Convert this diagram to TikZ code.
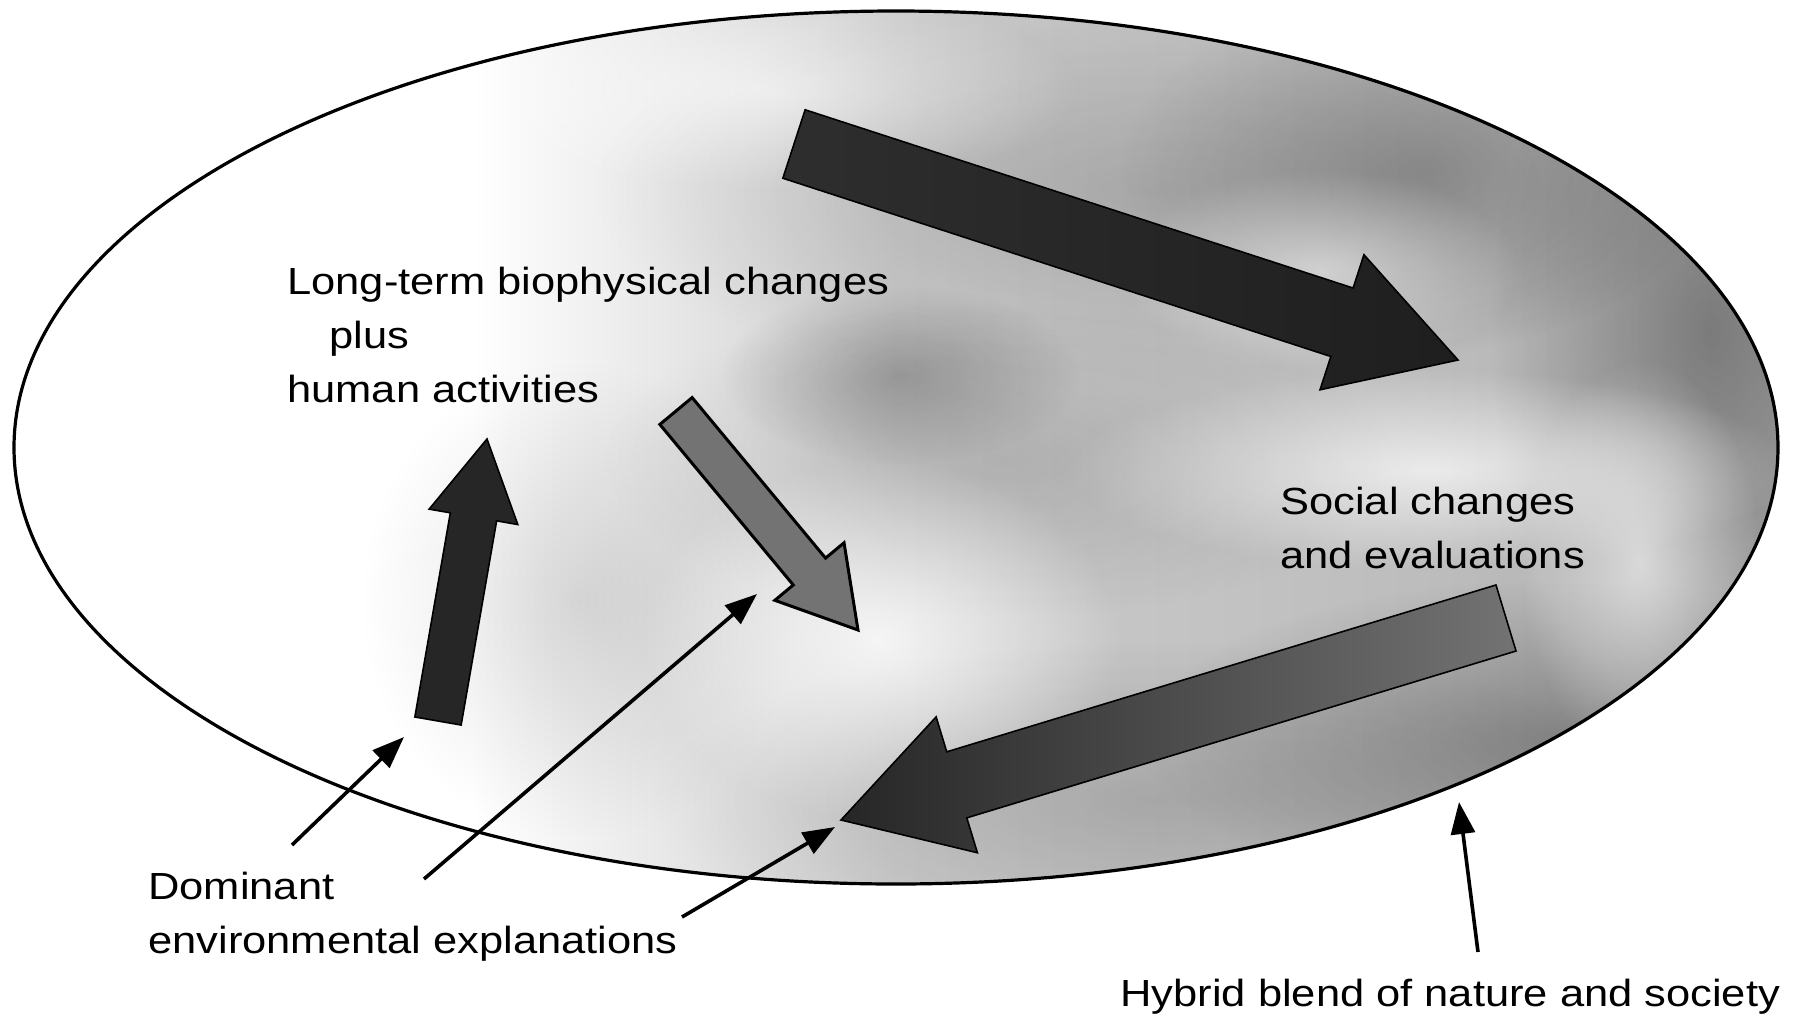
\documentclass[tikz,border=0pt]{standalone}
\usepackage{fontspec}
\setmainfont{Liberation Sans}[FakeStretch=1.15]
\usetikzlibrary{calc,arrows.meta,fadings}
\tikzfading[name=softblob, inner color=transparent!0, outer color=transparent!100]
\pgfdeclarehorizontalshading{bgshade}{100bp}{color(0bp)=(white); color(25bp)=(white); color(38bp)=(white); color(50bp)=(black!20); color(65bp)=(black!26); color(75bp)=(black!32); color(100bp)=(black!32)}
% #1 style, #2 tail, #3 tip, #4 half shaft width, #5 half head width, #6 head length
\newcommand{\blockarrow}[6]{%
  \coordinate (hb) at ($(#3)!#6!(#2)$);
  \path[#1] ($(#2)!#4!90:(#3)$) -- ($(hb)!#4!90:(#3)$) -- ($(hb)!#5!90:(#3)$) -- (#3)
    -- ($(hb)!#5!-90:(#3)$) -- ($(hb)!#4!-90:(#3)$) -- ($(#2)!#4!-90:(#3)$) -- cycle;
}
\begin{document}
\begin{tikzpicture}[x=0.5pt,y=-0.5pt,
  lbl/.style={font=\fontsize{18.9pt}{27pt}\selectfont, inner sep=0pt, align=left},
  thinarr/.style={line width=1.8pt, -{Triangle[length=16pt,width=12pt]}},
  darkblob/.style={fill=black, path fading=softblob},
  lightblob/.style={fill=white, path fading=softblob}]
\useasboundingbox (0,0) rectangle (1796,1019);
\fill[white] (0,0) rectangle (1796,1019);
% background texture of the ellipse
\begin{scope}
  \clip (896,447.5) ellipse [x radius=441pt, y radius=218.25pt];
  \shade[shading=bgshade] (14,11) rectangle (1778,884);
  \path[darkblob, opacity=0.22] (900,375) ellipse [x radius=90pt, y radius=45pt];
  \path[darkblob, opacity=0.15] (1150,190) ellipse [x radius=280pt, y radius=100pt];
  \path[darkblob, opacity=0.22] (1420,170) ellipse [x radius=150pt, y radius=90pt];
  \path[darkblob, opacity=0.30] (1710,330) ellipse [x radius=110pt, y radius=190pt];
  \path[darkblob, opacity=0.28] (1560,740) ellipse [x radius=210pt, y radius=80pt];
  \path[darkblob, opacity=0.15] (1150,800) ellipse [x radius=250pt, y radius=80pt];
  \path[darkblob, opacity=0.12] (1000,460) ellipse [x radius=200pt, y radius=80pt];
  \path[darkblob, opacity=0.12] (580,600) ellipse [x radius=110pt, y radius=120pt];
  \path[lightblob, opacity=0.80] (880,640) ellipse [x radius=120pt, y radius=90pt];
  \path[lightblob, opacity=0.70] (1430,470) ellipse [x radius=180pt, y radius=50pt];
  \path[lightblob, opacity=0.60] (760,90) ellipse [x radius=160pt, y radius=50pt];
  \path[lightblob, opacity=0.60] (1640,560) ellipse [x radius=60pt, y radius=100pt];
  \path[lightblob, opacity=0.50] (1320,270) ellipse [x radius=100pt, y radius=50pt];
\end{scope}
\draw[line width=1.6pt] (896,447.5) ellipse [x radius=441pt, y radius=218.25pt];

% block arrows
\coordinate (a1t) at (794,144);  \coordinate (a1h) at (1458,360);
\coordinate (a2t) at (676,411);  \coordinate (a2h) at (858,630);
\coordinate (a3t) at (438,721);  \coordinate (a3h) at (487,439);
\coordinate (a4t) at (1506,618); \coordinate (a4h) at (841,820);
\blockarrow{draw=black, line width=0.8pt, left color=black!82, middle color=black!64, right color=black!88}{a1t}{a1h}{18pt}{35.5pt}{61pt}
\blockarrow{draw=black, line width=1.5pt, fill=black!55}{a2t}{a2h}{10.5pt}{22.5pt}{38pt}
\blockarrow{draw=black, line width=0.8pt, fill=black!85}{a3t}{a3h}{11.75pt}{22.5pt}{39.5pt}
\blockarrow{draw=black, line width=0.8pt, left color=black!85, middle color=black!72, right color=black!55}{a4t}{a4h}{17.25pt}{35.5pt}{60.5pt}

% labels (base anchor = baseline of last line)
\node[lbl, anchor=base west] (lt) at (287,402) {Long-term biophysical changes\\\hspace*{21pt}plus\\human activities};
\node[lbl, anchor=base west] (soc) at (1280,568) {Social changes\\and evaluations};
\node[lbl, anchor=base west] (dom) at (148,953) {Dominant\\environmental explanations};
\node[lbl, anchor=base west] (hyb) at (1120,1006) {Hybrid blend of nature and society};

% pointer arrows
\coordinate (pA) at (292,845);  \coordinate (qA) at (404,737);
\coordinate (pB) at (424,879);  \coordinate (qB) at (757,594);
\coordinate (pC) at (682,917);  \coordinate (qC) at (835,827);
\coordinate (pD) at (1478,952); \coordinate (qD) at (1459,802);
\draw[thinarr] (pA) -- (qA);
\draw[thinarr] (pB) -- (qB);
\draw[thinarr] (pC) -- (qC);
\draw[thinarr] (pD) -- (qD);
\end{tikzpicture}
\end{document}
